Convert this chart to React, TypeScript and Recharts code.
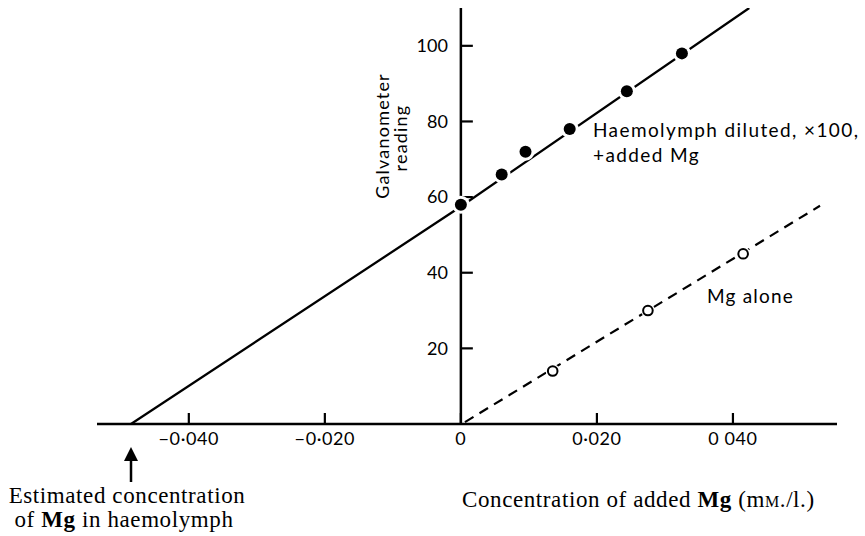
import React from "react"
import {
  ComposedChart,
  Line,
  Scatter,
  XAxis,
  YAxis,
  ReferenceLine,
  ReferenceDot,
} from "recharts"

// haemolymph diluted x100 + added Mg (filled points)
const mixConc = [0, 0.006, 0.0095, 0.016, 0.0244, 0.0325]
const mixReading = [58, 66, 72, 78, 88, 98]

// Mg alone (open points)
const aloneConc = [0.0135, 0.0275, 0.0415]
const aloneReading = [14, 30, 45]

// drawn lines
const mixLineConc = [-0.0485, 0, 0.0424]
const mixLineReading = [0, 57.5, 110]
const aloneLineConc = [0.0006, 0.0528]
const aloneLineReading = [0.5, 57.7]

const estimatedConc = -0.0485

const xTicks = [-0.04, -0.02, 0, 0.02, 0.04]
const xTickLabels = ["\u22120\u00b7040", "\u22120\u00b7020", "0", "0\u00b7020", "0 040"]
const yTicks = [20, 40, 60, 80, 100]

const toPoints = (xs: number[], ys: number[]) => xs.map((x, i) => ({ x, y: ys[i] }))

const mixPoints = toPoints(mixConc, mixReading)
const alonePoints = toPoints(aloneConc, aloneReading)
const mixLine = toPoints(mixLineConc, mixLineReading)
const aloneLine = toPoints(aloneLineConc, aloneLineReading)

const sans = "Lato, 'Open Sans', sans-serif"
const serif = "'Liberation Serif', 'DejaVu Serif', serif"

const XTick = ({ x, y, payload }: any) => {
  const i = xTicks.indexOf(payload.value)
  return (
    <g>
      <line x1={x} x2={x} y1={y} y2={y - 11} stroke="#000" strokeWidth={2.2} />
      <text x={x} y={y + 21} textAnchor="middle" fontFamily={sans} fontSize={18} letterSpacing={0.6} fill="#000">
        {xTickLabels[i]}
      </text>
    </g>
  )
}

const FilledDot = ({ cx, cy }: any) => (
  <g>
    <circle cx={cx} cy={cy} r={9} fill="#fff" />
    <circle cx={cx} cy={cy} r={6} fill="#000" />
  </g>
)

const OpenDot = ({ cx, cy }: any) => (
  <g>
    <circle cx={cx} cy={cy} r={7} fill="#fff" />
    <circle cx={cx} cy={cy} r={4.8} fill="#fff" stroke="#000" strokeWidth={2} />
  </g>
)

const Arrow = ({ cx, cy }: any) => (
  <g>
    <line x1={cx} x2={cx} y1={cy + 34} y2={cy + 58} stroke="#000" strokeWidth={2.5} />
    <polygon points={`${cx},${cy + 23} ${cx - 7},${cy + 37} ${cx + 7},${cy + 37}`} fill="#000" />
  </g>
)

export default function App() {
  return (
    <div style={{ position: "absolute", left: 0, top: 0, width: 865, height: 536, background: "#fff" }}>
      <ComposedChart
        width={865}
        height={536}
        margin={{ top: 8, right: 28, bottom: 0, left: 97 }}
      >
        <XAxis
          dataKey="x"
          type="number"
          domain={[-0.0535, 0.0553]}
          ticks={xTicks}
          tick={<XTick />}
          tickLine={false}
          tickSize={0}
          tickMargin={0}
          axisLine={{ stroke: "#000", strokeWidth: 2.5 }}
          allowDataOverflow
          height={112}
        />
        <YAxis type="number" domain={[0, 110]} hide allowDataOverflow />
        <ReferenceLine x={0} stroke="#000" strokeWidth={2.5} />
        {yTicks.map((v) => (
          <ReferenceLine
            key={v}
            segment={[{ x: 0, y: v }, { x: 0.00176, y: v }]}
            stroke="#000"
            strokeWidth={2.2}
            label={{ value: String(v), position: "left", offset: 13, fill: "#000", fontSize: 18, fontFamily: sans }}
          />
        ))}
        <Line
          data={mixLine}
          dataKey="y"
          stroke="#000"
          strokeWidth={2.3}
          dot={false}
          activeDot={false}
          isAnimationActive={false}
        />
        <Line
          data={aloneLine}
          dataKey="y"
          stroke="#000"
          strokeWidth={2.2}
          strokeDasharray="10 7"
          dot={false}
          activeDot={false}
          isAnimationActive={false}
        />
        <Scatter data={mixPoints} dataKey="y" shape={<FilledDot />} isAnimationActive={false} />
        <Scatter data={alonePoints} dataKey="y" shape={<OpenDot />} isAnimationActive={false} />
        <ReferenceDot x={estimatedConc} y={0} r={0} shape={<Arrow />} ifOverflow="visible" />
      </ComposedChart>

      <svg width={865} height={536} style={{ position: "absolute", left: 0, top: 0, pointerEvents: "none" }}>
        <g fontFamily={sans} fill="#000">
          <text transform="translate(382,136) rotate(-90)" textAnchor="middle" dominantBaseline="central" fontSize={18} letterSpacing={1.2}>
            Galvanometer
          </text>
          <text transform="translate(400,138) rotate(-90)" textAnchor="middle" dominantBaseline="central" fontSize={18} letterSpacing={1.2}>
            reading
          </text>
          <text x={593} y={137} fontSize={19} letterSpacing={1.4}>Haemolymph diluted, ×100,</text>
          <text x={593} y={162} fontSize={19} letterSpacing={1.4}>+added Mg</text>
          <text x={707} y={303} fontSize={19} letterSpacing={1.2}>Mg alone</text>
        </g>
        <g fontFamily={serif} fill="#000" fontSize={23} letterSpacing={0.6}>
          <text x={462} y={507}>
            Concentration of added <tspan fontWeight="bold">Mg</tspan> (m<tspan fontSize={16}>M</tspan>./l.)
          </text>
          <text x={127} y={503} textAnchor="middle">Estimated concentration</text>
          <text x={124} y={527} textAnchor="middle">
            of <tspan fontWeight="bold">Mg</tspan> in haemolymph
          </text>
        </g>
      </svg>
    </div>
  )
}
